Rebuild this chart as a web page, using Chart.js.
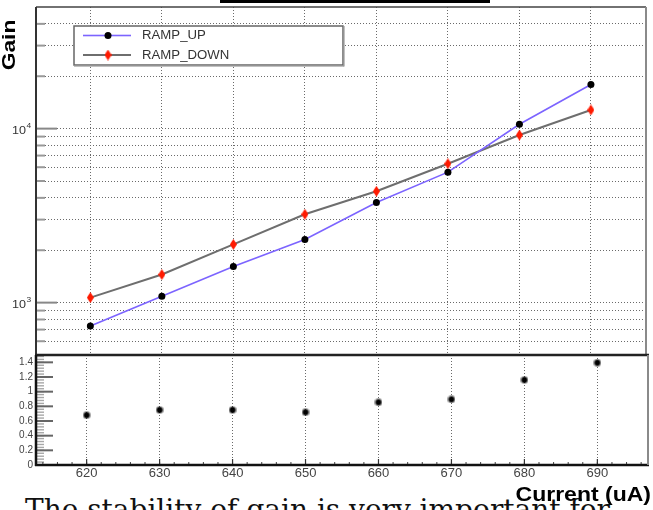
<!DOCTYPE html>
<html>
<head>
<meta charset="utf-8">
<script src="https://cdn.jsdelivr.net/npm/chart.js@4.4.1/dist/chart.umd.min.js"></script>
<style>
  html, body { margin: 0; padding: 0; background: #fff; }
  #page { position: relative; width: 653px; height: 510px; overflow: hidden; }
  #page canvas { position: absolute; left: 0; top: 0; }
  #topBar { position: absolute; left: 220px; top: 0; width: 270px; height: 3px; background: #000; }
  #caption { position: absolute; left: 25px; top: 496px; margin: 0; white-space: nowrap;
    font-family: "DejaVu Serif", serif; font-size: 28px; line-height: 28px; color: #111; }
</style>
</head>
<body>
<div id="page">
  <div id="topBar"></div>
  <p id="caption">The stability of gain is very important for</p>
  <canvas id="gainChart" width="653" height="510"></canvas>
  <canvas id="ratioChart" width="653" height="510"></canvas>
</div>
<script>
// Data
const currents = [620, 630, 640, 650, 660, 670, 680, 690];
const rampUp = [734, 1089, 1613, 2307, 3758, 5623, 10590, 17940];
const rampDown = [1069, 1450, 2160, 3218, 4365, 6285, 9185, 12800];
const ratio = [0.68, 0.75, 0.75, 0.72, 0.855, 0.895, 1.16, 1.395];

// Axis ticks
const gainGrid = [600, 700, 800, 900, 1000, 2000, 3000, 4000, 5000, 6000, 7000, 8000, 9000,
                  10000, 20000, 30000, 40000];
const gainMajor = [1000, 10000];
const gainExponents = ['3', '4'];
const ratioTicks = [0, 0.2, 0.4, 0.6, 0.8, 1, 1.2, 1.4];
const ratioLabels = ['0', '0.2', '0.4', '0.6', '0.8', '1', '1.2', '1.4'];
const currentLabels = ['620', '630', '640', '650', '660', '670', '680', '690'];

const SANS = '"Liberation Sans", Arial, Helvetica, sans-serif';
const GRID = '#6a6a6a';

// tall red diamond marker
const diamond = document.createElement('canvas');
diamond.width = 7; diamond.height = 11;
(() => {
    const c = diamond.getContext('2d');
    c.fillStyle = '#ff1a00';
    c.beginPath();
    c.moveTo(3.5, 0); c.lineTo(7, 5.5); c.lineTo(3.5, 11); c.lineTo(0, 5.5);
    c.closePath(); c.fill();
})();

// star marker for the ratio points
const star = document.createElement('canvas');
star.width = 8; star.height = 8;
(() => {
    const c = star.getContext('2d');
    c.fillStyle = 'rgba(0,0,0,0.35)';
    c.beginPath(); c.arc(4, 4, 4, 0, Math.PI * 2); c.fill();
    c.strokeStyle = '#000'; c.lineWidth = 1.6;
    c.beginPath();
    c.moveTo(1, 4); c.lineTo(7, 4);
    c.moveTo(4, 1); c.lineTo(4, 7);
    c.moveTo(1.8, 1.8); c.lineTo(6.2, 6.2);
    c.moveTo(6.2, 1.8); c.lineTo(1.8, 6.2);
    c.stroke();
    c.fillStyle = '#000';
    c.beginPath(); c.arc(4, 4, 2, 0, Math.PI * 2); c.fill();
})();

// text stretched horizontally like the original image
function stretchText(ctx, text, x, y, font, sx, align) {
    ctx.save();
    ctx.font = font;
    ctx.translate(x, y);
    ctx.scale(sx, 1);
    ctx.textAlign = align || 'left';
    ctx.fillText(text, 0, 0);
    ctx.restore();
}

function hLine(ctx, x1, x2, y, w, color) {
    ctx.fillStyle = color;
    ctx.fillRect(x1, y - w / 2, x2 - x1, w);
}
function vLine(ctx, x, y1, y2, w, color) {
    ctx.fillStyle = color;
    ctx.fillRect(x - w / 2, y1, w, y2 - y1);
}

const gridOpts = { color: GRID, lineWidth: 1, drawTicks: false };
const borderOpts = { display: false, dash: [1, 2] };

// Upper panel decorations: ticks, frame, labels, legend
const upperDecor = {
    id: 'upperDecor',
    afterDraw(chart) {
        const { ctx, chartArea: a, scales: { y } } = chart;
        ctx.save();
        gainGrid.forEach(v => {
            const py = y.getPixelForValue(v);
            const major = gainMajor.includes(v);
            hLine(ctx, a.left, a.left + (major ? 21 : 9), py, 2, major ? '#888' : '#999');
        });
        // frame
        hLine(ctx, a.left, a.right, a.top, 1.5, '#444');
        vLine(ctx, a.right, a.top, a.bottom, 2, '#8a8a8a');
        vLine(ctx, a.left, a.top, a.bottom, 2, '#333');

        // 10^3, 10^4
        ctx.fillStyle = '#333';
        gainMajor.forEach((v, i) => {
            const py = y.getPixelForValue(v);
            ctx.textBaseline = 'alphabetic';
            stretchText(ctx, '10', 26, py + 5.5, '10.5px ' + SANS, 1.2, 'right');
            stretchText(ctx, gainExponents[i], 26.5, py - 0.5, '7px ' + SANS, 1.2, 'left');
        });

        // legend
        const lx = 74, ly = 26, lw = 269, lh = 39;
        ctx.fillStyle = '#fff';
        ctx.fillRect(lx, ly, lw, lh);
        ctx.strokeStyle = '#666';
        ctx.lineWidth = 1.5;
        ctx.strokeRect(lx, ly, lw, lh);
        hLine(ctx, lx, lx + lw + 1, ly + lh + 1, 1.2, '#999');
        vLine(ctx, lx + lw + 1, ly, ly + lh + 1.5, 1.2, '#999');
        chart.data.datasets.forEach((ds, i) => {
            const ey = 35.5 + i * 19.5;
            hLine(ctx, 83, 131, ey, ds.borderWidth, ds.borderColor);
            if (ds.pointStyle instanceof HTMLCanvasElement) {
                ctx.drawImage(ds.pointStyle, 108 - ds.pointStyle.width / 2, ey - ds.pointStyle.height / 2);
            } else {
                ctx.fillStyle = ds.pointBackgroundColor;
                ctx.beginPath(); ctx.arc(108, ey, ds.pointRadius, 0, Math.PI * 2); ctx.fill();
            }
            ctx.fillStyle = '#333';
            ctx.textBaseline = 'middle';
            stretchText(ctx, ds.label, 142, ey + 0.5, '12px ' + SANS, 1.1, 'left');
        });

        // y title
        ctx.save();
        ctx.fillStyle = '#000';
        ctx.translate(9, 45);
        ctx.rotate(-Math.PI / 2);
        ctx.scale(1.2, 1);
        ctx.font = 'bold 19px ' + SANS;
        ctx.textAlign = 'center';
        ctx.textBaseline = 'middle';
        ctx.fillText('Gain', 0, 1);
        ctx.restore();
        ctx.restore();
    }
};

// Lower panel decorations
const lowerDecor = {
    id: 'lowerDecor',
    afterDraw(chart) {
        const { ctx, chartArea: a, scales: { x, y } } = chart;
        ctx.save();
        for (let v = 0; v <= 1.5; v += 0.04) {
            hLine(ctx, a.left, a.left + 8, y.getPixelForValue(v), 1.4, '#a8a8a8');
        }
        ratioTicks.forEach(v => {
            hLine(ctx, a.left, a.left + 17, y.getPixelForValue(v), 2, '#666');
        });
        for (let v = 614; v <= 696; v += 2) {
            vLine(ctx, x.getPixelForValue(v), a.bottom - 3, a.bottom, 1, '#444');
        }
        currents.forEach(v => {
            vLine(ctx, x.getPixelForValue(v), a.bottom - 6, a.bottom, 1.2, '#333');
        });
        hLine(ctx, a.left - 1, a.right + 1, a.top, 2.5, '#222');
        hLine(ctx, a.left - 1, a.right + 1, a.bottom, 2.5, '#111');
        vLine(ctx, a.left, a.top, a.bottom + 1, 2.5, '#111');
        vLine(ctx, a.right, a.top, a.bottom, 2, '#8a8a8a');

        ctx.fillStyle = '#000';
        ctx.textBaseline = 'alphabetic';
        stretchText(ctx, 'Current (uA)', 651, 501, 'bold 19.5px ' + SANS, 1.18, 'right');
        ctx.restore();
    }
};

new Chart(document.getElementById('gainChart'), {
    type: 'line',
    data: {
        datasets: [{
            label: 'RAMP_UP',
            data: currents.map((c, i) => ({ x: c, y: rampUp[i] })),
            borderColor: '#7c64ff',
            borderWidth: 1.6,
            pointStyle: 'circle',
            pointRadius: 3.5,
            pointBackgroundColor: '#000',
            pointBorderColor: '#000',
            pointBorderWidth: 0
        }, {
            label: 'RAMP_DOWN',
            data: currents.map((c, i) => ({ x: c, y: rampDown[i] })),
            borderColor: '#6e6e6e',
            borderWidth: 2,
            pointStyle: diamond,
            pointRadius: 5
        }]
    },
    options: {
        responsive: false,
        animation: false,
        devicePixelRatio: 1,
        layout: { padding: { top: 7, right: 4, left: 0, bottom: 0 } },
        plugins: { legend: { display: false }, tooltip: { enabled: false } },
        scales: {
            x: {
                type: 'linear', min: 612.4, max: 697.7,
                afterBuildTicks: s => { s.ticks = currents.map(v => ({ value: v })); },
                afterFit: s => { s.height = 155; },
                ticks: { display: false },
                grid: gridOpts, border: borderOpts
            },
            y: {
                type: 'logarithmic', min: 500, max: 50000,
                afterBuildTicks: s => { s.ticks = gainGrid.map(v => ({ value: v })); },
                afterFit: s => { s.width = 36; },
                ticks: { display: false },
                grid: gridOpts, border: borderOpts
            }
        }
    },
    plugins: [upperDecor]
});

new Chart(document.getElementById('ratioChart'), {
    type: 'scatter',
    data: {
        datasets: [{
            label: 'RAMP_UP / RAMP_DOWN',
            data: currents.map((c, i) => ({ x: c, y: ratio[i] })),
            pointStyle: star,
            pointRadius: 4
        }]
    },
    options: {
        responsive: false,
        animation: false,
        devicePixelRatio: 1,
        layout: { padding: { top: 355, right: 4, left: 0, bottom: 0 } },
        plugins: { legend: { display: false }, tooltip: { enabled: false } },
        scales: {
            x: {
                type: 'linear', min: 613.06, max: 696.94,
                afterBuildTicks: s => { s.ticks = currents.map(v => ({ value: v })); },
                afterFit: s => { s.height = 45; },
                ticks: {
                    color: '#444', padding: 1, maxRotation: 0,
                    font: { family: SANS, size: 13 },
                    callback: (v, i) => currentLabels[i]
                },
                grid: gridOpts, border: borderOpts
            },
            y: {
                min: 0, max: 1.5,
                afterBuildTicks: s => { s.ticks = ratioTicks.map(v => ({ value: v })); },
                afterFit: s => { s.width = 36; },
                ticks: {
                    color: '#444', padding: 3,
                    font: { family: SANS, size: 10 },
                    callback: (v, i) => ratioLabels[i]
                },
                grid: { display: false, drawTicks: false },
                border: { display: false }
            }
        }
    },
    plugins: [lowerDecor]
});
</script>
</body>
</html>
